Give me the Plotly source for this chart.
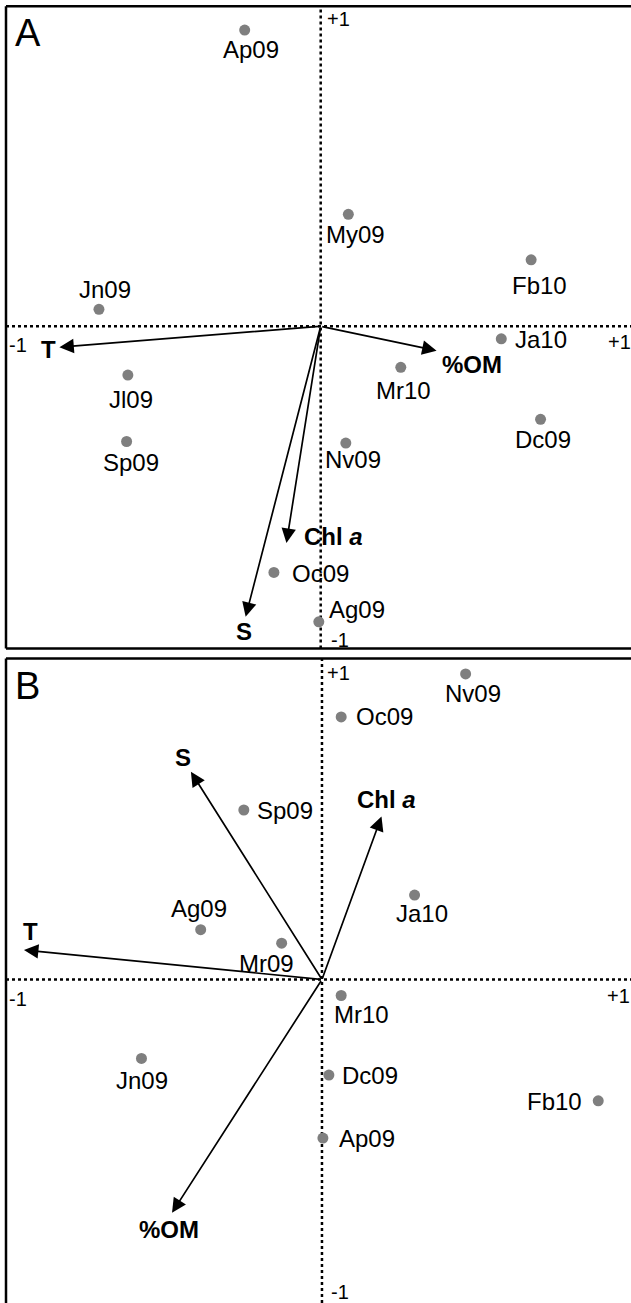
import plotly.graph_objects as go

# ---------------- data ----------------
# Panel A: sampling months (site scores)
a_months = ["Ap09", "My09", "Fb10", "Jn09", "Ja10", "Jl09", "Mr10", "Dc09", "Sp09", "Nv09", "Oc09", "Ag09"]
a_x = [-0.242, 0.088, 0.670, -0.706, 0.575, -0.614, 0.255, 0.700, -0.618, 0.080, -0.149, -0.006]
a_y = [0.923, 0.349, 0.207, 0.053, -0.039, -0.152, -0.128, -0.290, -0.359, -0.364, -0.767, -0.921]

# Panel A: environmental variables (arrow tips)
a_vars = ["T", "%OM", "Chl a", "S"]
a_vx = [-0.832, 0.369, -0.109, -0.239]
a_vy = [-0.065, -0.076, -0.675, -0.905]

# Panel B: sampling months
b_months = ["Nv09", "Oc09", "Sp09", "Ja10", "Ag09", "Mr09", "Mr10", "Jn09", "Dc09", "Fb10", "Ap09"]
b_x = [0.456, 0.061, -0.248, 0.294, -0.385, -0.128, 0.061, -0.573, 0.022, 0.877, 0.003]
b_y = [0.952, 0.818, 0.528, 0.263, 0.155, 0.113, -0.050, -0.246, -0.298, -0.378, -0.494]

# Panel B: environmental variables
b_vars = ["S", "Chl a", "T", "%OM"]
b_vx = [-0.416, 0.189, -0.946, -0.476]
b_vy = [0.647, 0.508, 0.092, -0.727]

tick_labels = ["-1", "+1", "+1", "-1"]  # left, right, top, bottom
panel_letters = ["A", "B"]

# ---------------- styling / placement (pixel offsets) ----------------
FONT = "Liberation Sans, Arial, Helvetica, sans-serif"
a_lab_off = [(6.8, 19.8), (6.8, 20.6), (8.8, 25.7), (5.6, -19.7), (39.6, 0.8), (3.6, 24.8),
             (3.2, 22.8), (2.9, 19.8), (4.0, 21.0), (7.6, 16.8), (46.7, 0.8), (38.3, -12.6)]
a_var_off = [(-11.3, 2.1), (35.0, 13.4), (47.5, -6.3), (-2.0, 14.7)]
b_lab_off = [(7.2, 19.9), (43.1, 0.0), (41.1, 0.0), (7.2, 18.6), (-1.6, -21.1), (-15.3, 20.3),
             (20.2, 19.0), (0.4, 22.0), (40.6, 0.0), (-43.9, 1.1), (43.9, 0.0)]
b_var_off = [(-8.0, -14.4), (4.8, -16.9), (6.1, -18.2), (-3.2, 16.9)]
# tick-label positions in data units (left, right, top, bottom)
a_tick_pos = [(-0.964, -0.059), (0.950, -0.049), (0.058, 0.957), (0.061, -0.977)]
b_tick_pos = [(-0.965, -0.060), (0.942, -0.053), (0.053, 0.956), (0.057, -0.975)]

H = 1303.0
fig = go.Figure()

panels = [
    dict(xa="x", ya="y", months=a_months, px=a_x, py=a_y, vars=a_vars, vx=a_vx, vy=a_vy,
         loff=a_lab_off, voff=a_var_off, tpos=a_tick_pos, letter=panel_letters[0],
         xr=[-1.002, 0.988], yr=[-1.004, 0.997], ydom=[1 - 648.5 / H, 1 - 6.3 / H], bottom=True),
    dict(xa="x2", ya="y2", months=b_months, px=b_x, py=b_y, vars=b_vars, vx=b_vx, vy=b_vy,
         loff=b_lab_off, voff=b_var_off, tpos=b_tick_pos, letter=panel_letters[1],
         xr=[-1.003, 0.981], yr=[-1.008, 1.0], ydom=[0.0, 1 - 658.5 / H], bottom=False),
]

annotations = []
shapes = []

for i, p in enumerate(panels):
    xa, ya = p["xa"], p["ya"]
    # dotted axes through origin
    shapes.append(dict(type="line", xref=xa, yref=f"{ya} domain", x0=0, x1=0, y0=0, y1=1,
                       line=dict(color="black", width=2.5, dash="3px,3px"), layer="below"))
    shapes.append(dict(type="line", xref=f"{xa} domain", yref=ya, x0=0, x1=1, y0=0, y1=0,
                       line=dict(color="black", width=2.5, dash="3px,3px"), layer="below"))
    # frame
    shapes.append(dict(type="line", xref=f"{xa} domain", yref=f"{ya} domain", x0=0, x1=0, y0=0, y1=1,
                       line=dict(color="black", width=2.5)))
    shapes.append(dict(type="line", xref=f"{xa} domain", yref=f"{ya} domain", x0=0, x1=1, y0=1, y1=1,
                       line=dict(color="black", width=2.5)))
    if p["bottom"]:
        shapes.append(dict(type="line", xref=f"{xa} domain", yref=f"{ya} domain", x0=0, x1=1, y0=0, y1=0,
                           line=dict(color="black", width=2.5)))

    # site points
    fig.add_trace(go.Scatter(x=p["px"], y=p["py"], mode="markers", xaxis=xa, yaxis=ya,
                             marker=dict(color="#7f7f7f", size=11), hoverinfo="skip", showlegend=False))
    for name, x, y, (dx, dy) in zip(p["months"], p["px"], p["py"], p["loff"]):
        annotations.append(dict(x=x, y=y, xref=xa, yref=ya, text=name, showarrow=False,
                                xshift=dx, yshift=-dy, xanchor="center", yanchor="middle",
                                font=dict(family=FONT, size=24, color="black")))

    # environmental arrows
    for name, x, y, (dx, dy) in zip(p["vars"], p["vx"], p["vy"], p["voff"]):
        annotations.append(dict(x=x, y=y, xref=xa, yref=ya, ax=0, ay=0, axref=xa, ayref=ya,
                                text="", showarrow=True, arrowhead=2, arrowsize=1.7,
                                arrowwidth=1.7, arrowcolor="black", standoff=0, startstandoff=0))
        label = name.replace("Chl a", "Chl <i>a</i>")
        annotations.append(dict(x=x, y=y, xref=xa, yref=ya, text=f"<b>{label}</b>", showarrow=False,
                                xshift=dx, yshift=-dy, xanchor="center", yanchor="middle",
                                font=dict(family=FONT, size=24, color="black")))

    # tick labels
    for t, (tx, ty) in zip(tick_labels, p["tpos"]):
        annotations.append(dict(x=tx, y=ty, xref=xa, yref=ya, text=t, showarrow=False,
                                xanchor="center", yanchor="middle",
                                font=dict(family=FONT, size=20, color="black")))

    # panel letter
    annotations.append(dict(x=0.0, y=1.0, xref=f"{xa} domain", yref=f"{ya} domain", text=p["letter"],
                            showarrow=False, xanchor="left", yanchor="top", xshift=7, yshift=-4,
                            font=dict(family=FONT, size=38, color="black")))

axis_common = dict(visible=False, showgrid=False, zeroline=False, fixedrange=True)

fig.update_layout(
    width=631, height=1303,
    margin=dict(l=0, r=0, t=0, b=0),
    paper_bgcolor="white", plot_bgcolor="white",
    showlegend=False,
    xaxis=dict(domain=[6 / 631, 1], range=panels[0]["xr"], anchor="y", **axis_common),
    yaxis=dict(domain=panels[0]["ydom"], range=panels[0]["yr"], anchor="x", **axis_common),
    xaxis2=dict(domain=[6 / 631, 1], range=panels[1]["xr"], anchor="y2", **axis_common),
    yaxis2=dict(domain=panels[1]["ydom"], range=panels[1]["yr"], anchor="x2", **axis_common),
    annotations=annotations,
    shapes=shapes,
)

fig.write_html(
    "out.html",
    config={"displayModeBar": False},
    post_script="document.body.style.margin='0px'; document.body.style.overflow='hidden';",
)
